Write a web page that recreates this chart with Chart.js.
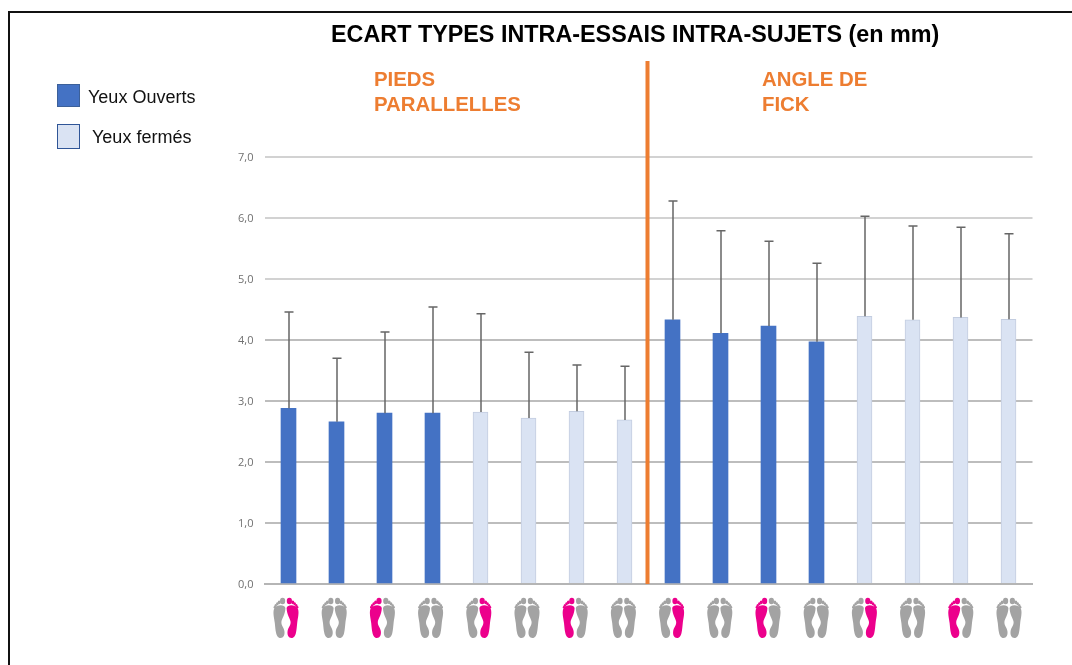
<!DOCTYPE html>
<html lang="fr">
<head>
<meta charset="utf-8">
<title>Ecart types intra-essais intra-sujets</title>
<script src="https://cdn.jsdelivr.net/npm/chart.js@4"></script>
<style>
  body { margin: 0; background: #fff; }
  #frame { position: relative; width: 1072px; height: 665px; overflow: hidden; }
  #frame canvas { position: absolute; left: 0; top: 0; }
  #border { position: absolute; left: 8px; top: 11px; width: 1064px; height: 654px; box-sizing: border-box; border-left: 2px solid #111; border-top: 2px solid #111; }
  .txt { position: absolute; white-space: nowrap; }
  #title { left: 331px; top: 19px; font: bold 23.35px/30px "Liberation Sans", sans-serif; color: #000; }
  .group { font: bold 20.4px/25px "Liberation Sans", sans-serif; color: #ed7d31; }
  .key { font: 18px/20px "Liberation Sans", sans-serif; color: #111; }
  .swatch { position: absolute; box-sizing: border-box; width: 23px; }
</style>
</head>
<body>
<div id="frame">
  <canvas id="ecartChart" width="1072" height="665"></canvas>
  <div id="border"></div>
  <div class="txt" id="title">ECART TYPES INTRA-ESSAIS INTRA-SUJETS (en mm)</div>
  <div class="txt group" style="left:374px;top:67px">PIEDS<br>PARALLELLES</div>
  <div class="txt group" style="left:762px;top:67px">ANGLE DE<br>FICK</div>
  <div class="swatch" style="left:57px;top:84px;height:23px;background:#4472c4;border:1px solid #3c6099"></div>
  <div class="txt key" style="left:88px;top:87px">Yeux Ouverts</div>
  <div class="swatch" style="left:57px;top:124px;height:25px;background:#dae3f3;border:1px solid #2f5597"></div>
  <div class="txt key" style="left:92px;top:127px">Yeux fermés</div>
</div>
<script>
const categories = ["PP1", "PP2", "PP3", "PP4", "PP5", "PP6", "PP7", "PP8", "AF1", "AF2", "AF3", "AF4", "AF5", "AF6", "AF7", "AF8"];
const yeuxOuverts = [2.88, 2.66, 2.8, 2.8, null, null, null, null, 4.33, 4.11, 4.23, 3.97, null, null, null, null];
const yeuxFermes = [null, null, null, null, 2.82, 2.72, 2.83, 2.69, null, null, null, null, 4.39, 4.33, 4.37, 4.34];
const errorTops = [4.46, 3.7, 4.13, 4.54, 4.43, 3.8, 3.59, 3.57, 6.28, 5.79, 5.62, 5.26, 6.03, 5.87, 5.85, 5.74];
const yTickLabels = ["0,0", "1,0", "2,0", "3,0", "4,0", "5,0", "6,0", "7,0"];
const pinkFoot = ["R", "", "L", "", "R", "", "L", "", "R", "", "L", "", "R", "", "L", ""];

// error bars: only the upper whisker is shown
const errorBars = {
  id: "errorBars",
  afterDatasetsDraw(chart) {
    const { ctx, scales: { x, y } } = chart;
    ctx.save();
    ctx.strokeStyle = "#666";
    ctx.lineWidth = 1.5;
    errorTops.forEach((top, i) => {
      const value = yeuxOuverts[i] ?? yeuxFermes[i];
      const px = x.getPixelForValue(i) + 0.5;
      const py = y.getPixelForValue(top);
      ctx.beginPath();
      ctx.moveTo(px, y.getPixelForValue(value));
      ctx.lineTo(px, py);
      ctx.moveTo(px - 4.5, py);
      ctx.lineTo(px + 4.5, py);
      ctx.stroke();
    });
    ctx.restore();
  },
};

// orange separator between the two foot positions
const separator = {
  id: "separator",
  beforeDatasetsDraw(chart) {
    const { ctx, scales: { x, y } } = chart;
    const px = (x.getPixelForValue(7) + x.getPixelForValue(8)) / 2 - 1;
    ctx.save();
    ctx.strokeStyle = "#ed7d31";
    ctx.lineWidth = 4;
    ctx.beginPath();
    ctx.moveTo(px, 61);
    ctx.lineTo(px, y.getPixelForValue(0));
    ctx.stroke();
    ctx.restore();
  },
};

function drawFoot(ctx, cx, top, side, color) {
  ctx.save();
  ctx.translate(cx, top);
  ctx.scale(side, 1);
  ctx.fillStyle = color;
  [[3.4, 3, 2.6, 3.2], [6.8, 4.4, 1.5, 1.8], [8.7, 5.8, 1.3, 1.6], [10.3, 7.4, 1.2, 1.5], [11.4, 9.2, 1, 1.3]].forEach(([tx, ty, rx, ry]) => {
    ctx.beginPath();
    ctx.ellipse(tx, ty, rx, ry, 0, 0, Math.PI * 2);
    ctx.fill();
  });
  ctx.beginPath();
  ctx.moveTo(0.6, 10);
  ctx.bezierCurveTo(1.5, 6, 10, 6.5, 12, 11);
  ctx.bezierCurveTo(13.3, 15, 11.8, 20, 11.2, 25);
  ctx.bezierCurveTo(10.8, 29, 10.6, 32, 10, 34.5);
  ctx.bezierCurveTo(9.2, 38.5, 7.5, 40, 5.5, 40);
  ctx.bezierCurveTo(2.5, 40, 1, 37, 1.6, 33);
  ctx.bezierCurveTo(2.2, 29.5, 4.8, 27.5, 4.6, 24);
  ctx.bezierCurveTo(4.4, 20.5, 0.8, 17.5, 0.6, 10);
  ctx.closePath();
  ctx.fill();
  ctx.restore();
}

const feetIcons = {
  id: "feetIcons",
  afterDraw(chart) {
    const { ctx, scales: { x } } = chart;
    pinkFoot.forEach((pink, i) => {
      const cx = x.getPixelForValue(i) - 2.5 + i * 0.2;
      drawFoot(ctx, cx, 598, -1, pink === "L" ? "#ec008c" : "#a3a3a3");
      drawFoot(ctx, cx, 598, 1, pink === "R" ? "#ec008c" : "#a3a3a3");
    });
  },
};

new Chart(document.getElementById("ecartChart"), {
  type: "bar",
  data: {
    labels: categories,
    datasets: [
      { label: "Yeux Ouverts", data: yeuxOuverts, backgroundColor: "#4472c4", barThickness: 15 },
      { label: "Yeux fermés", data: yeuxFermes, backgroundColor: "#dae3f3", borderColor: "#c3cde0", borderWidth: 1, barThickness: 15 },
    ],
  },
  options: {
    responsive: false,
    animation: false,
    layout: { padding: { left: 0, right: 39.5, top: 157, bottom: 81 } },
    plugins: { legend: { display: false }, title: { display: false }, tooltip: { enabled: false } },
    scales: {
      x: {
        stacked: true,
        ticks: { display: false },
        grid: { display: false },
        border: { color: "#b5b5b5", width: 2 },
        afterFit(axis) { axis.height = 0; },
      },
      y: {
        stacked: true,
        min: 0,
        max: 7,
        afterFit(axis) { axis.width = 264.5; },
        ticks: {
          stepSize: 1,
          padding: 11,
          labelOffset: 1,
          color: "#707070",
          font: { family: "Open Sans", size: 11 },
          callback: (value) => yTickLabels[value],
        },
        grid: { color: (c) => (c.tick.value === 0 ? "#b5b5b5" : c.tick.value >= 5 ? "#d2d2d2" : "#bdbdbd"), lineWidth: 2, drawTicks: false },
        border: { display: false },
      },
    },
  },
  plugins: [separator, errorBars, feetIcons],
});
</script>
</body>
</html>
